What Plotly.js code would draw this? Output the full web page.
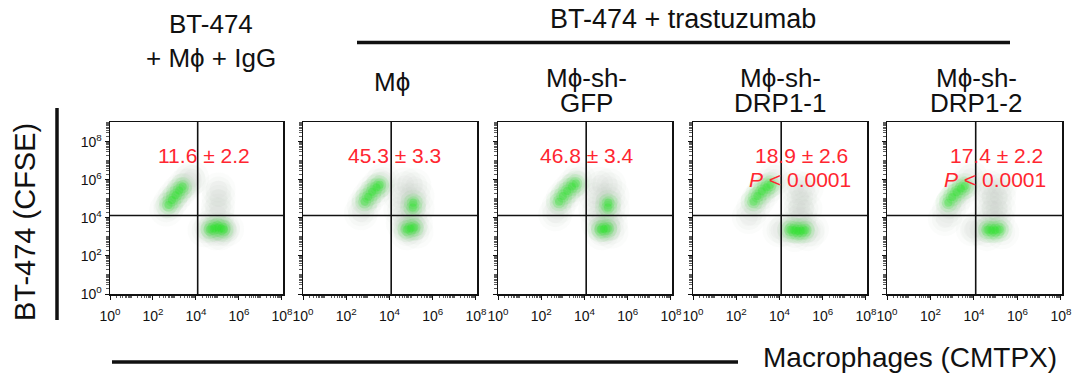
<!DOCTYPE html>
<html>
<head>
<meta charset="utf-8">
<script src="https://cdn.plot.ly/plotly-3.0.1.min.js"></script>
<style>html,body{margin:0;padding:0;background:#fff;}#chart{width:1080px;height:382px;}</style>
</head>
<body>
<div id="chart"></div>
<script>
// ---- data (log10 units) ----
const panelTitles = [["BT-474", "+ M\u03d5 + IgG"], ["M\u03d5"], ["M\u03d5-sh-", "GFP"], ["M\u03d5-sh-", "DRP1-1"], ["M\u03d5-sh-", "DRP1-2"]];
const groupTitle = "BT-474 + trastuzumab";
const pctMean = [11.6, 45.3, 46.8, 18.9, 17.4];
const pctSD = [2.2, 3.3, 3.4, 2.6, 2.2];
const pText = ["", "", "", "< 0.0001", "< 0.0001"];
const xTitle = "Macrophages (CMTPX)";
const yTitle = "BT-474 (CFSE)";
const tickDecades = [0, 2, 4, 6, 8];
const tickLabels = ["10<sup>0</sup>", "10<sup>2</sup>", "10<sup>4</sup>", "10<sup>6</sup>", "10<sup>8</sup>"];
const gateX = 4.08;   // log10 quadrant gate on macrophage axis
const gateY = 4.13;   // log10 quadrant gate on CFSE axis

// panel 1: BT-474 + Mphi + IgG
const igg_halo_x = [2.62, 2.80, 3.00, 3.22, 3.45, 3.68, 3.82, 5.05, 5.05, 5.03, 5.00, 4.70, 4.40, 5.25, 5.45, 4.90, 5.15];
const igg_halo_y = [4.45, 4.80, 5.10, 5.40, 5.70, 5.95, 6.10, 5.50, 5.05, 4.60, 4.20, 3.55, 3.35, 3.50, 3.40, 3.20, 3.20];
const igg_core_x = [2.72, 2.88, 3.05, 3.22, 3.38, 4.65, 4.82, 5.00, 5.18, 5.30];
const igg_core_y = [4.68, 4.95, 5.20, 5.45, 5.65, 3.40, 3.45, 3.50, 3.45, 3.40];
// panel 2: Mphi
const mphi_halo_x = [2.68, 2.82, 3.02, 3.25, 3.48, 3.72, 4.72, 5.15, 4.50, 5.30, 4.50, 5.30, 4.62, 5.22, 4.80, 5.25, 4.95, 4.95, 4.90];
const mphi_halo_y = [4.25, 4.65, 5.05, 5.40, 5.70, 6.00, 5.78, 5.72, 5.20, 5.15, 4.45, 4.50, 3.72, 3.72, 3.20, 3.28, 4.95, 4.10, 3.50];
const mphi_core_x = [2.85, 3.02, 3.20, 3.40, 3.55, 5.08, 5.10, 4.98, 5.15, 4.80];
const mphi_core_y = [4.85, 5.12, 5.38, 5.60, 5.75, 4.55, 4.80, 3.45, 3.50, 3.40];
// panel 3: Mphi-sh-GFP
const gfp_halo_x = [2.65, 2.80, 3.00, 3.25, 3.50, 3.75, 4.72, 5.15, 4.50, 5.30, 4.50, 5.30, 4.62, 5.22, 4.80, 5.25, 4.95, 4.95, 4.90];
const gfp_halo_y = [4.20, 4.60, 5.05, 5.40, 5.72, 6.02, 5.80, 5.72, 5.20, 5.15, 4.45, 4.50, 3.72, 3.72, 3.20, 3.28, 4.95, 4.10, 3.50];
const gfp_core_x = [2.82, 3.00, 3.20, 3.42, 3.60, 5.08, 5.10, 4.90, 5.08, 4.75];
const gfp_core_y = [4.85, 5.15, 5.42, 5.65, 5.82, 4.55, 4.80, 3.42, 3.45, 3.40];
// panel 4: Mphi-sh-DRP1-1
const drp1_halo_x = [2.58, 2.78, 3.00, 3.25, 3.50, 3.80, 4.75, 5.25, 4.95, 4.80, 5.20, 4.95, 4.30, 4.00, 4.70, 5.30, 5.50, 4.90];
const drp1_halo_y = [4.05, 4.50, 4.95, 5.35, 5.70, 6.10, 5.65, 5.55, 5.10, 4.55, 4.50, 4.10, 3.40, 3.35, 3.10, 3.15, 3.40, 3.75];
const drp1_core_x = [2.80, 2.98, 3.18, 3.40, 3.58, 4.50, 4.68, 4.85, 5.02, 5.20];
const drp1_core_y = [4.85, 5.15, 5.40, 5.62, 5.75, 3.38, 3.35, 3.32, 3.33, 3.35];
// panel 5: Mphi-sh-DRP1-2
const drp2_halo_x = [2.66, 2.85, 3.05, 3.30, 3.55, 3.85, 4.65, 5.20, 4.75, 5.15, 4.75, 5.15, 4.80, 5.10, 4.20, 3.95, 4.60, 5.30];
const drp2_halo_y = [3.95, 4.40, 4.85, 5.25, 5.65, 6.15, 5.65, 5.65, 5.10, 5.10, 4.50, 4.50, 4.00, 3.95, 3.45, 3.40, 3.15, 3.25];
const drp2_core_x = [2.82, 3.00, 3.20, 3.40, 3.58, 4.62, 4.80, 4.98, 5.18];
const drp2_core_y = [4.80, 5.10, 5.35, 5.55, 5.68, 3.38, 3.36, 3.35, 3.40];

const haloX = [igg_halo_x, mphi_halo_x, gfp_halo_x, drp1_halo_x, drp2_halo_x];
const haloY = [igg_halo_y, mphi_halo_y, gfp_halo_y, drp1_halo_y, drp2_halo_y];
const coreX = [igg_core_x, mphi_core_x, gfp_core_x, drp1_core_x, drp2_core_x];
const coreY = [igg_core_y, mphi_core_y, gfp_core_y, drp1_core_y, drp2_core_y];

// ---- layout geometry (pixels) ----
const W = 1080, H = 382;
const panelLeft = [110, 303, 498, 693, 887];
const panelRight = [283, 477, 672, 867, 1062];
const panelTop = 122, panelBottom = 294;
const xRange = [0, 8.05], yRange = [0, 9.05];
const px = v => v / W;
const py = v => 1 - v / H;
const FONT = "Liberation Sans, Arial, Helvetica, sans-serif";
const pow = a => a.map(v => Math.pow(10, v));

const traces = [];
const layers = [
  {src: 'halo', size: 34, color: 'rgba(200,208,200,0.07)'},
  {src: 'halo', size: 26, color: 'rgba(190,198,190,0.08)'},
  {src: 'halo', size: 18, color: 'rgba(185,195,185,0.08)'},
  {src: 'core', size: 26, color: 'rgba(120,220,120,0.08)'},
  {src: 'core', size: 19, color: 'rgba(70,222,70,0.12)'},
  {src: 'core', size: 13, color: 'rgba(40,225,40,0.17)'},
  {src: 'core', size: 8, color: 'rgba(25,230,25,0.24)'}
];
for (let i = 0; i < 5; i++) {
  const xa = i === 0 ? 'x' : 'x' + (i + 1);
  const ya = i === 0 ? 'y' : 'y' + (i + 1);
  layers.forEach(L => {
    const xs = L.src === 'halo' ? haloX[i] : coreX[i];
    const ys = L.src === 'halo' ? haloY[i] : coreY[i];
    traces.push({type: 'scatter', mode: 'markers', x: pow(xs), y: pow(ys), xaxis: xa, yaxis: ya,
      marker: {size: L.size, color: L.color, line: {width: 0}}, hoverinfo: 'skip', showlegend: false});
  });
  // quadrant gates
  traces.push({type: 'scatter', mode: 'lines', x: pow([gateX, gateX]), y: pow(yRange), xaxis: xa, yaxis: ya,
    line: {color: '#111', width: 1.6}, hoverinfo: 'skip', showlegend: false, cliponaxis: false});
  traces.push({type: 'scatter', mode: 'lines', x: pow(xRange), y: pow([gateY, gateY]), xaxis: xa, yaxis: ya,
    line: {color: '#111', width: 1.6}, hoverinfo: 'skip', showlegend: false, cliponaxis: false});
}

const layout = {
  width: W, height: H, margin: {l: 0, r: 0, t: 0, b: 0},
  paper_bgcolor: '#fff', plot_bgcolor: '#fff', showlegend: false,
  font: {family: FONT, color: '#111'},
  annotations: [], shapes: []
};
for (let i = 0; i < 5; i++) {
  const sfx = i === 0 ? '' : String(i + 1);
  const common = {
    type: 'log', showline: true, mirror: true, linecolor: '#111', linewidth: 1.5, showgrid: false, zeroline: false,
    tickmode: 'array', tickvals: pow(tickDecades), ticktext: tickLabels, ticks: 'outside', ticklen: 4, tickwidth: 1, tickcolor: '#111',
    minor: {ticks: 'outside', ticklen: 2.5, tickwidth: 0.8, tickcolor: '#333', dtick: 'D1', showgrid: false},
    tickfont: {size: 14, family: FONT, color: '#111'}, fixedrange: true
  };
  layout['xaxis' + sfx] = Object.assign({}, common, {
    domain: [px(panelLeft[i]), px(panelRight[i])], anchor: 'y' + sfx, range: xRange, ticklabelstandoff: 5
  });
  layout['yaxis' + sfx] = Object.assign({}, common, {
    domain: [py(panelBottom), py(panelTop)], anchor: 'x' + sfx, range: yRange, showticklabels: i === 0
  });
}

function ann(text, x, y, size, color, extra) {
  layout.annotations.push(Object.assign({text: text, x: px(x), y: py(y), xref: 'paper', yref: 'paper',
    xanchor: 'center', yanchor: 'middle', showarrow: false, font: {family: FONT, size: size, color: color || '#111'}}, extra || {}));
}
const HF = 26;
// headers
ann(panelTitles[0][0], 211, 24, HF);
ann(panelTitles[0][1], 211, 58, HF);
ann(groupTitle, 683, 19, 27);
ann(panelTitles[1][0], 392, 82, HF);
const titleCx = [0, 0, 586, 780, 976];
for (let i = 2; i < 5; i++) {
  ann(panelTitles[i][0], titleCx[i], 78, HF);
  ann(panelTitles[i][1], titleCx[i], 103, HF);
}
// red quadrant stats
const statCx = [204, 394, 587, 801, 996];
const RED = 'rgb(255,38,48)';
for (let i = 0; i < 5; i++) {
  ann(pctMean[i].toFixed(1) + ' \u00b1 ' + pctSD[i].toFixed(1), statCx[i], 155, 21, RED);
  if (pText[i]) ann('<i>P</i> ' + pText[i].replace('<', '&lt;'), statCx[i] - 1, 179, 21, RED);
}
// axis titles
ann(yTitle, 25, 222, 29, '#111', {textangle: -90});
ann(xTitle, 910, 357, 28);
// bracket lines
layout.shapes.push({type: 'line', xref: 'paper', yref: 'paper', x0: px(357), x1: px(1010), y0: py(42.5), y1: py(42.5), line: {color: '#111', width: 3.5}});
layout.shapes.push({type: 'line', xref: 'paper', yref: 'paper', x0: px(57), x1: px(57), y0: py(108), y1: py(320), line: {color: '#111', width: 3.5}});
layout.shapes.push({type: 'line', xref: 'paper', yref: 'paper', x0: px(112), x1: px(738), y0: py(362), y1: py(362), line: {color: '#111', width: 3.5}});

Plotly.newPlot('chart', traces, layout, {staticPlot: true, displayModeBar: false});
</script>
</body>
</html>
